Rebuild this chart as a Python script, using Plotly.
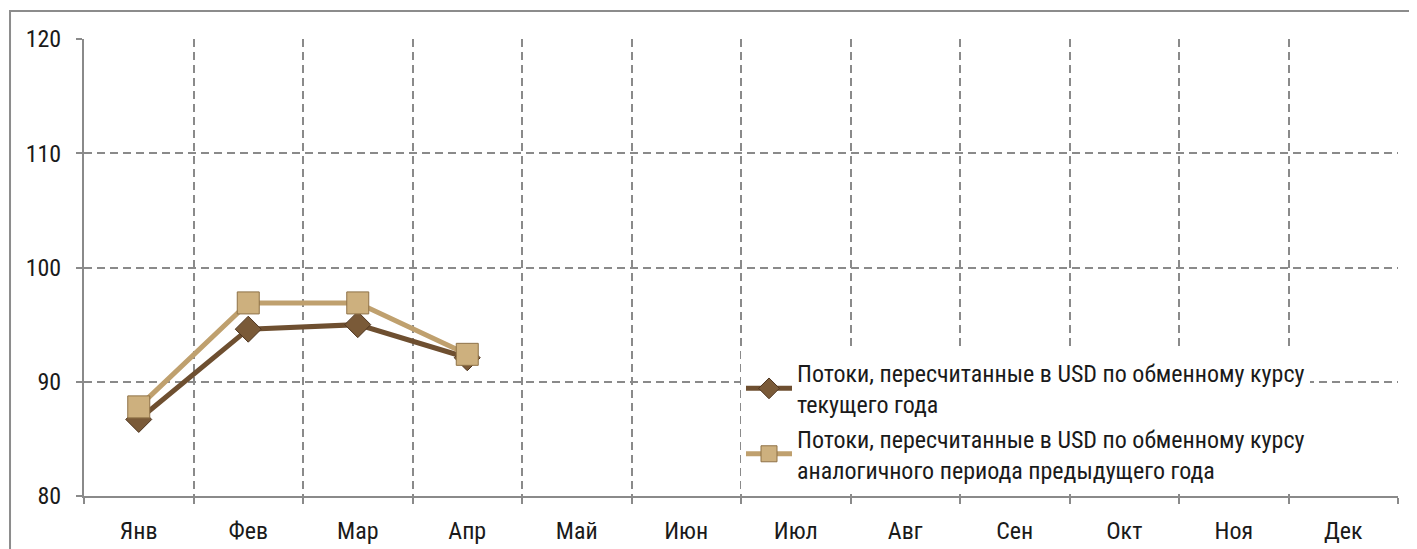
import plotly.graph_objects as go

months = ["Янв", "Фев", "Мар", "Апр", "Май", "Июн", "Июл", "Авг", "Сен", "Окт", "Ноя", "Дек"]
current_rate = [86.7, 94.6, 95.0, 92.1, None, None, None, None, None, None, None, None]
prev_rate = [87.8, 96.9, 96.9, 92.4, None, None, None, None, None, None, None, None]
name_current = "Потоки, пересчитанные в USD по обменному курсу<br>текущего года"
name_prev = "Потоки, пересчитанные в USD по обменному курсу<br>аналогичного периода предыдущего года"
y_ticks = [80, 90, 100, 110, 120]

FONT = "Liberation Sans Narrow, Roboto Condensed, Open Sans, sans-serif"
GRID = "#8a8a8a"
DASH = "8px,5px"

fig = go.Figure()
fig.add_trace(go.Scatter(
    x=months, y=current_rate, name=name_current, mode="lines+markers",
    line=dict(color="#6e4f30", width=5),
    marker=dict(symbol="diamond", size=20, color="#7a5a38", line=dict(color="#4e3520", width=1)),
))
fig.add_trace(go.Scatter(
    x=months, y=prev_rate, name=name_prev, mode="lines+markers",
    line=dict(color="#bfa06e", width=5),
    marker=dict(symbol="square", size=22, color="#cdb07e", line=dict(color="#8f7247", width=1)),
))

# body has an 8px default margin, margins compensate for it
fig.update_layout(
    width=1417, height=549,
    margin=dict(l=76, r=27, t=31, b=61, autoexpand=False),
    paper_bgcolor="white", plot_bgcolor="white",
    font=dict(family=FONT, size=24, color="#1a1a1a"),
    showlegend=True,
    legend=dict(
        x=0.5, y=0.318, xanchor="left", yanchor="top",
        bgcolor="white", font=dict(size=24, family=FONT),
        tracegroupgap=0, itemwidth=46,
    ),
    shapes=[dict(type="rect", xref="paper", yref="paper",
                 x0=-0.0563, x1=1.03, y0=-0.3, y1=1.0613,
                 line=dict(color="#8c8c8c", width=2), layer="below")],
)
fig.update_xaxes(
    type="category", categoryorder="array", categoryarray=months,
    range=[-0.5, 11.5], tickson="boundaries",
    showgrid=True, gridcolor=GRID, griddash=DASH, gridwidth=1.5,
    showline=True, linecolor=GRID, linewidth=2,
    ticks="outside", ticklen=6, tickcolor=GRID, tickwidth=1.5,
    tickfont=dict(size=24), zeroline=False, ticklabelstandoff=12,
)
fig.update_yaxes(
    range=[80, 120], tickvals=y_ticks,
    showgrid=True, gridcolor=GRID, griddash=DASH, gridwidth=1.5,
    showline=True, linecolor=GRID, linewidth=2,
    ticks="outside", ticklen=6, tickcolor=GRID, tickwidth=1.5,
    tickfont=dict(size=24), zeroline=False, ticklabelstandoff=10,
)

fig.write_html("out.html")
